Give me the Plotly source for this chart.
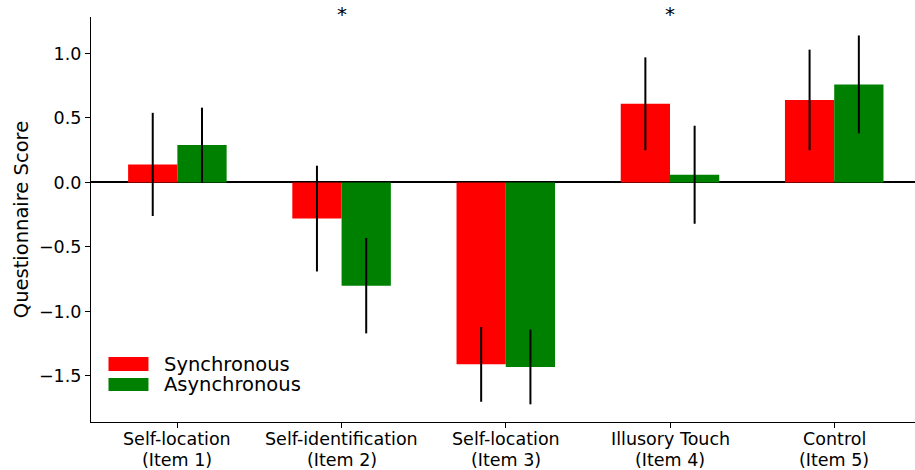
import plotly.graph_objects as go

# Questionnaire items (x categories)
categories = [
    "Self-location<br>(Item 1)",
    "Self-identification<br>(Item 2)",
    "Self-location<br>(Item 3)",
    "Illusory Touch<br>(Item 4)",
    "Control<br>(Item 5)",
]

# Mean scores and error half-widths per condition
sync_mean = [0.14, -0.28, -1.41, 0.61, 0.64]
sync_err = [0.40, 0.41, 0.29, 0.36, 0.39]
async_mean = [0.29, -0.80, -1.43, 0.06, 0.76]
async_err = [0.29, 0.37, 0.29, 0.38, 0.38]

series_names = ["Synchronous", "Asynchronous"]
series_colors = ["#ff0000", "#008000"]

# Items with a significant difference between conditions
significant = ["Self-identification<br>(Item 2)", "Illusory Touch<br>(Item 4)"]

y_ticks = [-1.5, -1.0, -0.5, 0.0, 0.5, 1.0]
y_ticktext = [f"{v:.1f}".replace("-", "\u2212") for v in y_ticks]

FONT = "DejaVu Sans"
W, H = 915, 470
L, R, T, B = 90.5, 0, 17, 48

fig = go.Figure()
for name, color, means, errs in [
    (series_names[0], series_colors[0], sync_mean, sync_err),
    (series_names[1], series_colors[1], async_mean, async_err),
]:
    fig.add_trace(go.Bar(
        x=categories, y=means, name=name,
        marker=dict(color=color, line=dict(width=0)),
        error_y=dict(type="data", array=errs, visible=True,
                     color="black", thickness=2, width=0),
        showlegend=False,
    ))

pw, ph = W - L - R, H - T - B
def px_x(px):
    return (px - L) / pw
def px_y(py):
    return (H - B - py) / ph

# significance markers above the items
for cat in significant:
    fig.add_annotation(x=cat, xref="x", yref="paper", y=px_y(14.5),
                       text="*", showarrow=False,
                       yanchor="middle", xanchor="center",
                       font=dict(family=FONT, size=20, color="black"))

# category labels under the x axis, one annotation per text line
for cat in categories:
    for line, ypx in zip(cat.split("<br>"), (439, 460)):
        fig.add_annotation(x=cat, xref="x", yref="paper", y=px_y(ypx),
                           text=line, showarrow=False,
                           yanchor="middle", xanchor="center",
                           font=dict(family=FONT, size=17.5, color="black"))

# legend drawn as patches + labels in the lower-left corner
patch_rows = [(357, 371), (378, 391)]
for (top, bot), name, color in zip(patch_rows, series_names, series_colors):
    fig.add_shape(type="rect", xref="paper", yref="paper",
                  x0=px_x(108), x1=px_x(148), y0=px_y(bot), y1=px_y(top),
                  fillcolor=color, line=dict(width=0))
    fig.add_annotation(xref="paper", yref="paper",
                       x=px_x(163), y=px_y((top + bot) / 2),
                       text=name, showarrow=False, xanchor="left",
                       yanchor="middle", borderpad=0,
                       font=dict(family=FONT, size=19.5, color="black"))

fig.update_layout(
    template="none",
    width=W, height=H,
    margin=dict(l=L, r=R, t=T, b=B, pad=0, autoexpand=False),
    paper_bgcolor="white", plot_bgcolor="white",
    barmode="group", bargap=0.4, bargroupgap=0,
    font=dict(family=FONT, size=17.5, color="black"),
)
fig.update_xaxes(
    automargin=False,
    range=[-0.526, 4.492], showgrid=False, zeroline=False,
    showline=True, linecolor="black", linewidth=1.2,
    ticks="outside", ticklen=5, tickwidth=1.2, tickcolor="black",
    showticklabels=False,
)
fig.update_yaxes(
    automargin=False,
    range=[-1.857, 1.283], showgrid=False,
    zeroline=True, zerolinecolor="black", zerolinewidth=2,
    showline=True, linecolor="black", linewidth=1.2,
    ticks="outside", ticklen=5, tickwidth=1.2, tickcolor="black",
    tickvals=y_ticks, ticktext=y_ticktext,
    tickfont=dict(family=FONT, size=17.5, color="black"),
    title=dict(text="Questionnaire Score", standoff=5,
               font=dict(family=FONT, size=19.5, color="black")),
)

fig.write_html("out.html")
